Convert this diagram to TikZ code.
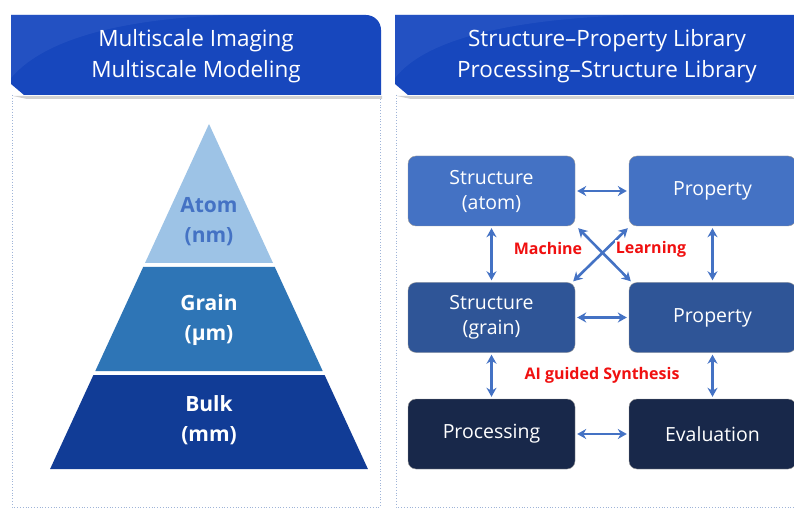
\documentclass[tikz,border=0pt]{standalone}
\usepackage{fontspec}
\setmainfont{Open Sans}
\usetikzlibrary{arrows.meta}
\definecolor{hdr}{HTML}{1747BD}
\definecolor{hdrlight}{HTML}{3A66CC}
\definecolor{pyA}{HTML}{9DC3E6}
\definecolor{pyAt}{HTML}{4472C4}
\definecolor{pyG}{HTML}{2E75B6}
\definecolor{pyB}{HTML}{113C96}
\definecolor{bx1}{HTML}{4472C4}
\definecolor{bx2}{HTML}{2F5597}
\definecolor{bx3}{HTML}{18284A}
\definecolor{arrc}{HTML}{4472C4}
\definecolor{mlred}{HTML}{F01010}
\definecolor{brd}{HTML}{9FB4D8}
\tikzset{
  x=1pt, y=-1pt,
  hdrtext/.style={text=white, font=\fontsize{22.5}{31}\selectfont, align=center},
  box/.style={rounded corners=8pt, minimum width=167pt, minimum height=70pt,
     text=white, font=\fontsize{19.5}{25}\selectfont, align=center, inner sep=0pt, draw=black!40, line width=0.4pt},
  arr/.style={draw=arrc, line width=2.6pt, {Stealth[length=9pt,width=10pt]}-{Stealth[length=9pt,width=10pt]}},
  redlbl/.style={text=mlred, font=\fontsize{16}{19}\selectfont\bfseries},
  pylbl/.style={font=\fontsize{21}{30}\selectfont\bfseries, align=center},
  panelborder/.style={draw=brd, line width=0.8pt, dotted}
}
\begin{document}
\begin{tikzpicture}
\useasboundingbox (0,0) rectangle (794,510);
\fill[white] (0,0) rectangle (794,510);
% panel borders
\draw[panelborder] (12,95) -- (12,507) -- (380,507) -- (380,95);
\draw[panelborder] (396,95) -- (396,507) -- (794,507);
% headers with shadow
\fill[black!18] (13,96) -- (382,96) -- (382,99) -- (27,99) -- cycle;
\fill[black!18] (397,96) -- (794,96) -- (794,99) -- (411,99) -- cycle;
\fill[hdr] (11,15) -- (366,15) to[out=0,in=90] (381,30) -- (381,95) -- (24,95) -- (11,84) -- cycle;
\fill[hdr] (395,15) -- (794,15) -- (794,95) -- (408,95) -- (395,84) -- cycle;
\begin{scope}
\clip (11,15) -- (366,15) to[out=0,in=90] (381,30) -- (381,95) -- (24,95) -- (11,84) -- cycle;
\fill[hdrlight, opacity=0.35] (11,78) .. controls (60,20) and (200,12) .. (300,15) -- (11,15) -- cycle;
\end{scope}
\begin{scope}
\clip (395,15) -- (794,15) -- (794,95) -- (408,95) -- (395,84) -- cycle;
\fill[hdrlight, opacity=0.35] (395,78) .. controls (440,20) and (600,12) .. (720,15) -- (395,15) -- cycle;
\end{scope}
\node[hdrtext] (h1) at (196,56) {Multiscale Imaging\\Multiscale Modeling};
\node[hdrtext] (h2) at (607,56) {Structure--Property Library\\Processing--Structure Library};
% pyramid
\fill[pyA] (209,124) -- (273,263) -- (145,263) -- cycle;
\fill[pyG] (143.2,267) -- (274.8,267) -- (322.7,371) -- (95.3,371) -- cycle;
\fill[pyB] (93.4,375) -- (324.6,375) -- (367.9,469) -- (50.1,469) -- cycle;
\node[pylbl, text=pyAt] (atom) at (209,222) {Atom\\(nm)};
\node[pylbl, text=white] (grain) at (209,320) {Grain\\(μm)};
\node[pylbl, text=white] (bulk) at (209,420) {Bulk\\(mm)};
% boxes
\node[box, fill=bx1] (sa) at (491.5,191) {Structure\\(atom)};
\node[box, fill=bx1] (pa) at (712.5,191) {Property};
\node[box, fill=bx2] (sg) at (491.5,317.5) {Structure\\(grain)};
\node[box, fill=bx2] (pg) at (712.5,317.5) {Property};
\node[box, fill=bx3] (pr) at (491.5,434) {Processing};
\node[box, fill=bx3] (ev) at (712.5,434) {Evaluation};
% arrows
\draw[arr] ([xshift=2pt]sa.east) -- ([xshift=-2pt]pa.west);
\draw[arr] ([xshift=2pt]sg.east) -- ([xshift=-2pt]pg.west);
\draw[arr] ([xshift=2pt]pr.east) -- ([xshift=-2pt]ev.west);
\draw[arr] ([yshift=-2pt]sa.south) -- ([yshift=2pt]sg.north);
\draw[arr] ([yshift=-2pt]pa.south) -- ([yshift=2pt]pg.north);
\draw[arr] ([yshift=-2pt]sg.south) -- ([yshift=2pt]pr.north);
\draw[arr] ([yshift=-2pt]pg.south) -- ([yshift=2pt]ev.north);
\draw[arr] ([shift={(3pt,-2pt)}]sa.south east) -- ([shift={(2pt,1pt)}]pg.north west);
\draw[arr] ([shift={(-1pt,-2pt)}]pa.south west) -- ([shift={(-2pt,1pt)}]sg.north east);
% labels
\node[redlbl, fill=white, inner sep=1pt] (ml1) at (548,249) {Machine};
\node[redlbl, fill=white, inner sep=1pt] (ml2) at (651,249) {Learning};
\node[redlbl] (ai) at (602,375) {AI guided Synthesis};
\end{tikzpicture}
\end{document}
